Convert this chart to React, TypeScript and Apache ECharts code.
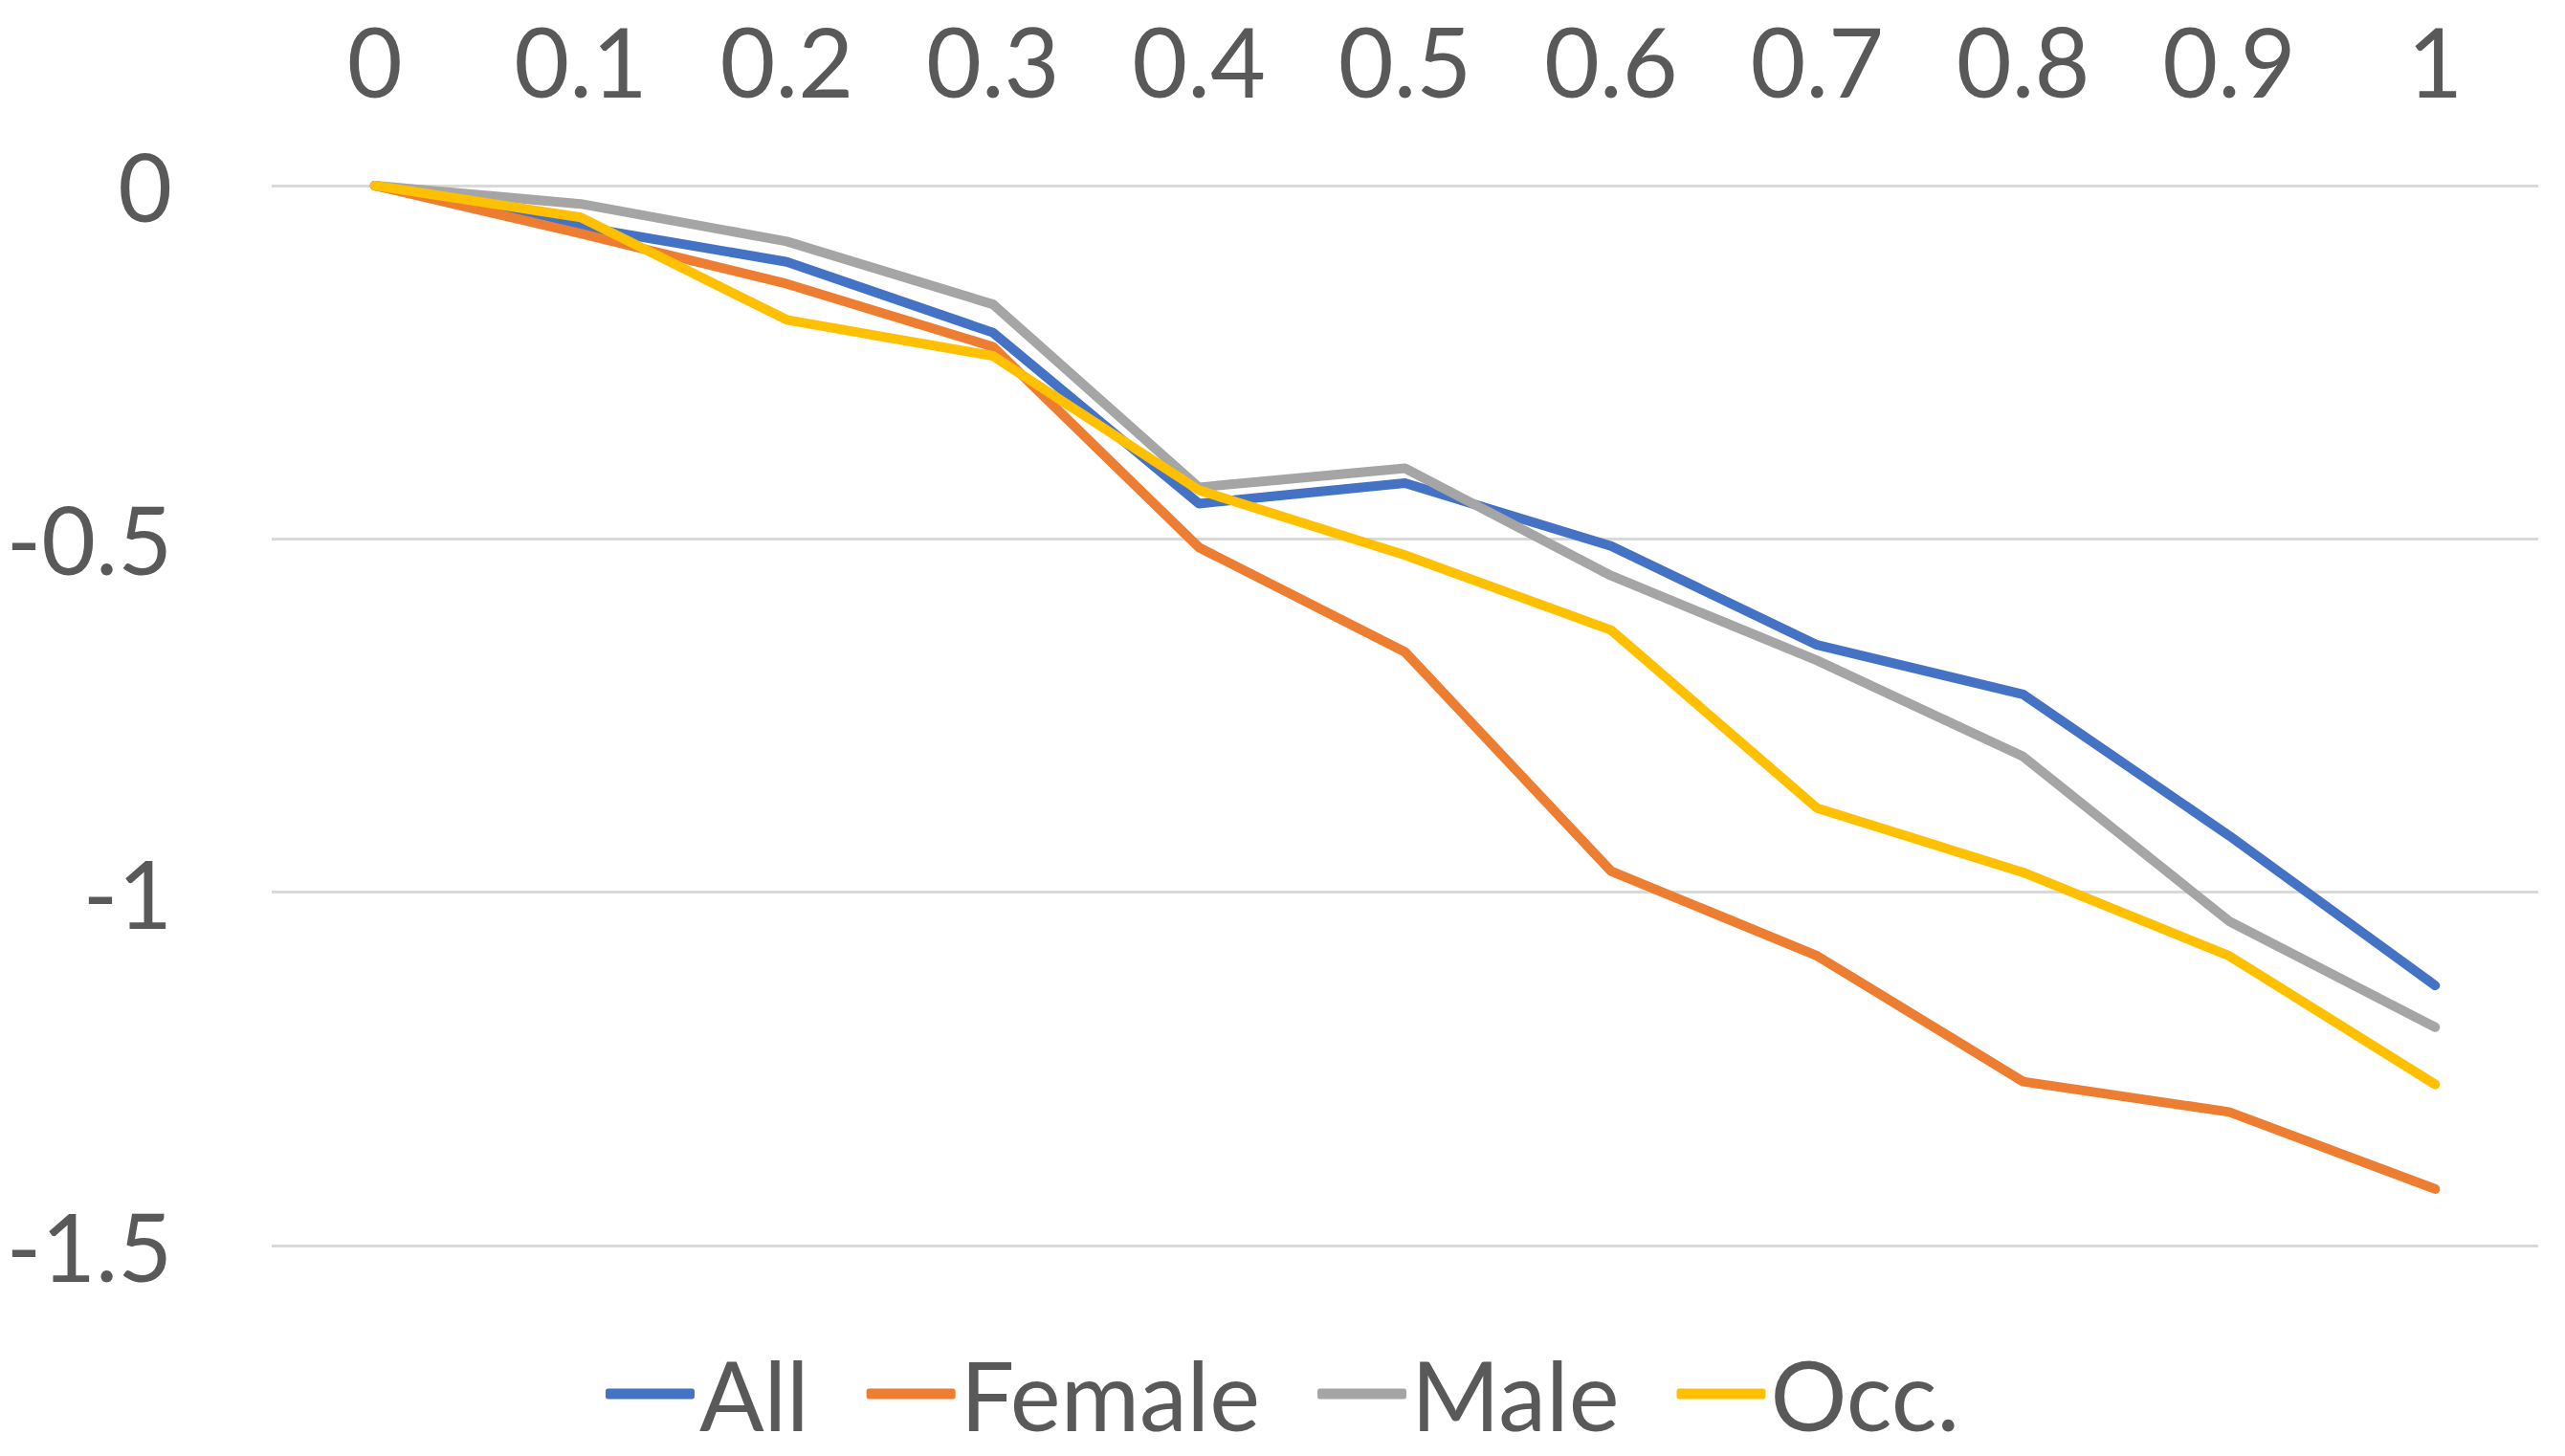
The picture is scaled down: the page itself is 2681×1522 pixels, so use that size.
import React, { useEffect, useRef } from "react";
import * as echarts from "echarts";

const categories = ["0", "0.1", "0.2", "0.3", "0.4", "0.5", "0.6", "0.7", "0.8", "0.9", "1"];
const allValues = [0, -0.058, -0.108, -0.208, -0.45, -0.421, -0.51, -0.65, -0.72, -0.92, -1.132];
const femaleValues = [0, -0.068, -0.139, -0.228, -0.512, -0.66, -0.97, -1.09, -1.268, -1.311, -1.42];
const maleValues = [0, -0.026, -0.079, -0.168, -0.427, -0.4, -0.552, -0.672, -0.808, -1.041, -1.191];
const occValues = [0, -0.045, -0.19, -0.241, -0.431, -0.523, -0.629, -0.881, -0.972, -1.09, -1.272];
const seriesNames = ["All", "Female", "Male", "Occ."];
const seriesColors = ["#4472C4", "#ED7D31", "#A5A5A5", "#FFC000"];

const FONT = "Lato";
const TEXT = "#595959";

export default function App() {
  const ref = useRef<HTMLDivElement>(null);
  useEffect(() => {
    if (!ref.current) return;
    const chart = echarts.init(ref.current, null, { renderer: "svg" });
    const data = [allValues, femaleValues, maleValues, occValues];
    chart.setOption({
      animation: false,
      backgroundColor: "#ffffff",
      grid: { left: 284, right: 28, top: 194, bottom: 220, containLabel: false },
      legend: {
        data: seriesNames,
        left: "center",
        top: 1402,
        itemWidth: 93,
        itemHeight: 11,
        itemGap: 60,
        icon: "roundRect",
        textStyle: { fontFamily: FONT, fontSize: 100, color: TEXT, lineHeight: 90 },
      },
      xAxis: {
        type: "category",
        position: "top",
        data: categories,
        boundaryGap: true,
        axisLine: { show: false },
        axisTick: { show: false },
        axisLabel: {
          fontFamily: FONT,
          fontSize: 100,
          color: TEXT,
          margin: 91,
          interval: 0,
          lineHeight: 80,
        },
        splitLine: { show: false },
      },
      yAxis: {
        type: "value",
        min: -1.5,
        max: 0,
        interval: 0.5,
        axisLine: { show: false },
        axisTick: { show: false },
        axisLabel: { fontFamily: FONT, fontSize: 98, color: TEXT, margin: 104, lineHeight: 80 },
        splitLine: { show: true, lineStyle: { color: "#D9D9D9", width: 3 } },
      },
      series: seriesNames.map((name, i) => ({
        name,
        type: "line",
        data: data[i],
        showSymbol: false,
        symbol: "none",
        color: seriesColors[i],
        lineStyle: { color: seriesColors[i], width: 10, cap: "round", join: "round" },
      })),
    });
    return () => chart.dispose();
  }, []);
  return (
    <div
      ref={ref}
      style={{ position: "fixed", left: 0, top: 0, width: 2681, height: 1522 }}
    />
  );
}
